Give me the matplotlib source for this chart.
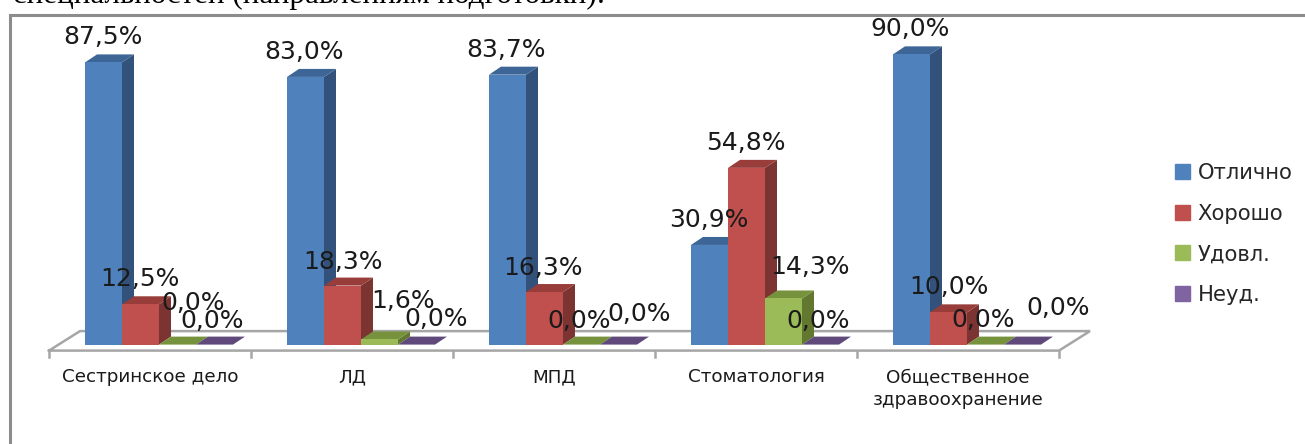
import matplotlib
matplotlib.use('Agg')
import matplotlib.pyplot as plt
from matplotlib.patches import Polygon

categories = ['Сестринское дело', 'ЛД', 'МПД', 'Стоматология',
              'Общественное\nздравоохранение']
series_names = ['Отлично', 'Хорошо', 'Удовл.', 'Неуд.']
otlichno = [87.5, 83.0, 83.7, 30.9, 90.0]
horosho = [12.5, 18.3, 16.3, 54.8, 10.0]
udovl = [0.0, 1.6, 0.0, 14.3, 0.0]
neud = [0.0, 0.0, 0.0, 0.0, 0.0]
series = [otlichno, horosho, udovl, neud]

face = ['#4F81BD', '#C0504D', '#9BBB59', '#8064A2']
side = ['#32527B', '#7B3432', '#62782F', '#4F3B68']
top = ['#3D6596', '#983D3A', '#76923C', '#604A7B']

W, H = 1305, 444
GROUP = 202.0    # px per category
UNIT = 3.225     # px per percent
X0 = 150.0       # px of first category centre
Y0 = 344.6       # px of zero line
BAR = 37 / GROUP
DX = 12 / GROUP
DY = 8 / UNIT

# pixel offsets of the value labels from the top of their bar (hand placed in the original)
label_off = [
    [(-1, 25), (-1, 25), (16, 42), (-2, 24)],
    [(-1, 25), (0, 24), (24, 38), (20, 26)],
    [(-1, 25), (-1, 24), (-2, 24), (21, 31)],
    [(-1, 25), (-1, 25), (26, 31), (-2, 24)],
    [(-1, 25), (0, 25), (-2, 25), (36, 37)],
]

fig = plt.figure(figsize=(W / 100, H / 100), dpi=100)
ax = fig.add_axes([0, 0, 1, 1])
ax.set_xlim(-X0 / GROUP, (W - X0) / GROUP)
ax.set_ylim((Y0 - H) / UNIT, Y0 / UNIT)
ax.axis('off')

n = len(categories)
line = '#A6A6A6'
fy = -6 / UNIT
by = 13.5 / UNIT
# floor
ax.plot([-0.5, -0.5 + 31 / GROUP, n - 0.5 + 31 / GROUP, n - 0.5, -0.5],
        [fy, by, by, fy, fy], color=line, lw=1.8, solid_joinstyle='miter', zorder=1)
for i in range(n + 1):
    ax.plot([i - 0.5, i - 0.5], [fy, fy - 6 / UNIT], color=line, lw=1.8, zorder=1)

start = -65 / GROUP
for s in range(len(series)):
    xs = [i + start + s * BAR for i in range(n)]
    z = 3 + s
    ax.bar(xs, series[s], width=BAR, align='edge', color=face[s], zorder=z + 0.5)
    for x, v in zip(xs, series[s]):
        ax.add_patch(Polygon([(x + BAR, 0), (x + BAR + DX, DY), (x + BAR + DX, v + DY), (x + BAR, v)],
                             color=side[s], lw=0, zorder=z))
        ax.add_patch(Polygon([(x, v), (x + DX, v + DY), (x + BAR + DX, v + DY), (x + BAR, v)],
                             color=top[s], lw=0, zorder=z))

for s in range(len(series)):
    for i in range(n):
        x = i + start + (s + 0.5) * BAR
        txt = f'{series[s][i]:.1f}%'.replace('.', ',')
        ax.annotate(txt, (x, series[s][i]), xytext=label_off[i][s], textcoords='offset pixels',
                    ha='center', va='center', fontsize=18, color='#1A1A1A', zorder=20)

for i, c in enumerate(categories):
    ax.annotate(c, (i, 0), xytext=(0, -23.5), textcoords='offset pixels', ha='center', va='top',
                fontsize=13.2, color='#1A1A1A', linespacing=1.38)

handles = [plt.Rectangle((0, 0), 1, 1, color=face[s]) for s in range(len(series))]
ax.legend(handles, series_names, loc='upper left', bbox_to_anchor=(1158.4 / W, 1 - 146 / H),
          frameon=False, fontsize=15.2, labelspacing=0.98, handlelength=0.72, handleheight=0.72,
          handletextpad=0.34, labelcolor='#262626', borderpad=0.3)

# frame of the chart and the page text above it
ax.plot([10 / W, 10 / W, 1], [0, 1 - 15 / H, 1 - 15 / H], transform=ax.transAxes,
        color='#8C8C8C', lw=2.2, solid_joinstyle='miter', clip_on=False)
ax.text(13 / W, 1 - 3 / H, 'специальностей (направлениям подготовки):', transform=ax.transAxes,
        family='Liberation Serif', fontsize=22.3, ha='left', va='baseline', color='black')

fig.savefig('out.png', dpi=100)
